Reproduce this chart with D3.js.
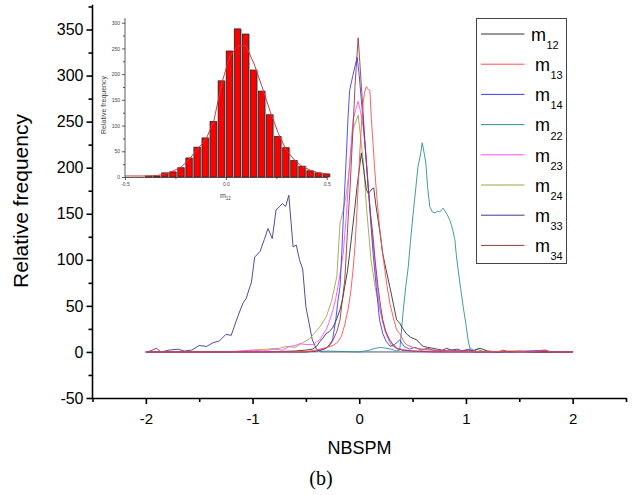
<!DOCTYPE html>
<html>
<head>
<meta charset="utf-8">
<script src="https://cdn.jsdelivr.net/npm/d3@7"></script>
<style>
body { margin: 0; background: #fff; }
</style>
</head>
<body>
<script>
// main chart ticks
let xMajor = [-2, -1, 0, 1, 2]
let xMinor = [-2.5, -1.5, -0.5, 0.5, 1.5, 2.5]
let yMajor = [-50, 0, 50, 100, 150, 200, 250, 300, 350]
let yMinor = [-25, 25, 75, 125, 175, 225, 275, 325, 375]

let seriesNames = ['12', '13', '14', '22', '23', '24', '33', '34']
let seriesColors = ['#333333', '#ff4d4d', '#3d3dff', '#2e9191', '#ff4dff', '#a3a34a', '#3a3a8f', '#963a3a']

// [NBSPM, relative frequency]
let m12 = [[-2,0],[-1.4,0],[-0.9,0],[-0.6,1],[-0.5,2],[-0.44,3],[-0.4,6],[-0.37,11],[-0.34,15],[-0.31,20],[-0.28,22],[-0.245,27],[-0.21,36],[-0.18,46],[-0.155,58],[-0.136,71],[-0.11,88],[-0.09,107],[-0.065,132],[-0.04,158],[-0.02,180],[0,198],[0.02,216],[0.045,195],[0.067,176],[0.085,172],[0.1,174],[0.12,177],[0.136,178],[0.155,160],[0.177,143],[0.2,125],[0.22,107],[0.25,90],[0.286,71],[0.32,52],[0.35,35],[0.38,31],[0.41,25],[0.44,20],[0.48,16],[0.54,13],[0.57,9],[0.6,6],[0.64,5],[0.69,4],[0.73,3],[0.78,2],[0.82,4],[0.86,2],[0.92,3],[0.97,1],[1.02,2],[1.08,1],[1.12,4],[1.16,3],[1.2,1],[1.3,0],[1.5,1],[1.6,0],[2,0]]
let m13 = [[-2,0],[-0.6,0],[-0.45,1],[-0.37,3],[-0.3,5],[-0.245,7],[-0.2,11],[-0.167,17],[-0.135,30],[-0.105,46],[-0.08,65],[-0.058,89],[-0.04,115],[-0.026,143],[-0.01,180],[0.005,216],[0.02,245],[0.036,270],[0.05,282],[0.067,288],[0.085,285],[0.1,284],[0.114,252],[0.13,225],[0.145,198],[0.165,168],[0.19,136],[0.215,110],[0.24,89],[0.26,72],[0.286,53],[0.32,37],[0.35,24],[0.38,20],[0.41,13],[0.44,8],[0.5,5],[0.54,4],[0.6,3],[0.7,2],[0.8,1],[1,1],[1.2,0],[1.4,1],[1.6,0],[1.75,2],[1.8,0],[2,0]]
let m14 = [[-2,0],[-0.5,0],[-0.4,1],[-0.35,2],[-0.31,4],[-0.28,8],[-0.25,13],[-0.22,35],[-0.2,55],[-0.18,71],[-0.165,105],[-0.15,143],[-0.135,180],[-0.12,216],[-0.105,255],[-0.09,284],[-0.06,300],[-0.04,310],[-0.02,320],[0,300],[0.018,275],[0.036,252],[0.06,215],[0.083,180],[0.105,145],[0.13,107],[0.16,70],[0.19,35],[0.22,20],[0.25,12],[0.29,6],[0.33,8],[0.38,13],[0.42,6],[0.47,3],[0.52,5],[0.58,2],[0.64,4],[0.69,2],[0.75,1],[0.85,2],[0.95,1],[1.03,3],[1.08,0],[1.4,0],[1.74,2],[1.78,0],[2,0]]
let m22 = [[-2,0],[-0.4,0],[-0.3,1],[0,0],[0.1,2],[0.15,4],[0.2,5],[0.25,4],[0.3,3],[0.35,1],[0.38,2],[0.41,42],[0.435,70],[0.46,93],[0.48,120],[0.505,150],[0.53,178],[0.55,201],[0.575,215],[0.59,227],[0.61,215],[0.624,205],[0.64,180],[0.66,158],[0.685,152],[0.71,151],[0.735,153],[0.755,152],[0.786,156],[0.82,150],[0.85,143],[0.875,133],[0.896,122],[0.91,105],[0.927,89],[0.95,69],[0.974,49],[1,30],[1.02,13],[1.037,4],[1.07,2],[1.1,3],[1.15,1],[1.3,0],[2,0]]
let m23 = [[-2,0],[-1.3,0],[-1.1,1],[-1,2],[-0.9,1],[-0.8,3],[-0.72,2],[-0.65,6],[-0.6,7],[-0.56,9],[-0.5,8],[-0.46,8],[-0.43,8],[-0.4,11],[-0.37,13],[-0.34,19],[-0.31,24],[-0.28,33],[-0.245,46],[-0.22,58],[-0.2,71],[-0.175,88],[-0.15,107],[-0.12,150],[-0.09,205],[-0.07,235],[-0.058,252],[-0.035,262],[-0.01,272],[0.01,262],[0.036,245],[0.067,208],[0.085,180],[0.1,158],[0.12,128],[0.145,100],[0.165,75],[0.19,49],[0.22,32],[0.25,20],[0.28,12],[0.32,8],[0.36,4],[0.42,2],[0.5,1],[0.6,0],[2,0]]
let m24 = [[-2,0],[-1.2,0],[-1,2],[-0.87,3],[-0.75,4],[-0.68,6],[-0.6,5],[-0.53,10],[-0.47,14],[-0.43,19],[-0.37,27],[-0.31,38],[-0.26,55],[-0.21,82],[-0.18,140],[-0.15,154],[-0.12,172],[-0.09,201],[-0.06,241],[-0.01,257],[0.02,225],[0.04,205],[0.067,158],[0.11,100],[0.15,70],[0.18,53],[0.24,24],[0.3,7],[0.36,3],[0.5,1],[0.7,1],[1,0],[2,0]]
let m33 = [[-2,0],[-1.96,1],[-1.9,4],[-1.86,0],[-1.78,2],[-1.7,3],[-1.64,1],[-1.57,2],[-1.5,7],[-1.43,6],[-1.37,10],[-1.31,12],[-1.25,19],[-1.2,18],[-1.14,38],[-1.09,53],[-1.06,58],[-1.01,76],[-0.98,103],[-0.93,109],[-0.89,122],[-0.855,134],[-0.815,123],[-0.78,154],[-0.72,161],[-0.69,158],[-0.66,170],[-0.62,114],[-0.59,116],[-0.56,100],[-0.53,90],[-0.5,49],[-0.47,31],[-0.44,13],[-0.4,3],[-0.36,0],[2,0]]
let m34 = [[-2,0],[-0.5,0],[-0.4,1],[-0.31,4],[-0.27,8],[-0.245,13],[-0.21,22],[-0.18,35],[-0.16,55],[-0.136,78],[-0.12,110],[-0.105,143],[-0.085,180],[-0.07,216],[-0.055,250],[-0.04,288],[-0.025,315],[-0.01,341],[0.005,315],[0.02,288],[0.035,262],[0.05,234],[0.067,205],[0.083,180],[0.105,150],[0.13,125],[0.15,98],[0.176,71],[0.2,50],[0.22,35],[0.25,22],[0.286,13],[0.32,7],[0.35,4],[0.4,2],[0.5,1],[0.7,0],[1.3,0],[1.35,2],[1.4,0],[2,0]]

// drawing order (red ends on top at the baseline)
let drawOrder = ['33', '22', '24', '23', '12', '14', '34', '13']
let seriesData = { '12': m12, '13': m13, '14': m14, '22': m22, '23': m23, '24': m24, '33': m33, '34': m34 }

// inset histogram (m12)
let binLeft = [-0.40, -0.36, -0.32, -0.28, -0.24, -0.20, -0.16, -0.12, -0.08, -0.04, 0.00, 0.04, 0.08, 0.12, 0.16, 0.20, 0.24, 0.28, 0.32, 0.36, 0.40, 0.44, 0.48]
let binCounts = [2, 2, 8, 10, 18, 37, 58, 76, 108, 187, 245, 288, 278, 208, 167, 121, 79, 57, 32, 21, 12, 8, 6]
let fitX = [-0.5, -0.42, -0.38, -0.34, -0.30, -0.26, -0.22, -0.18, -0.14, -0.10, -0.06, -0.02, 0.02, 0.06, 0.10, 0.14, 0.18, 0.22, 0.26, 0.30, 0.34, 0.38, 0.42, 0.46, 0.50]
let fitY = [2, 2, 2, 3, 6, 12, 20, 35, 55, 72, 108, 183, 235, 255, 255, 220, 175, 127, 85, 52, 33, 20, 13, 8, 6]
let insetXMajor = [-0.5, 0, 0.5]
let insetXMinor = [-0.25, 0.25]
let insetYMajor = [0, 50, 100, 150, 200, 250, 300]
let insetYMinor = [25, 75, 125, 175, 225, 275]

let font = 'Arial, "Liberation Sans", sans-serif'

let svg = d3.select('body')
.append('svg')
.attr('width', 644)
.attr('height', 495)

let x = d3.scaleLinear()
.domain([-2.5, 2.5])
.range([92.5, 626])

let y = d3.scaleLinear()
.domain([-50, 350])
.range([398, 29.5])

// x axis
let xAxis = svg.append('g')
.attr('transform', `translate(0, ${y(-50)})`)
.call(d3.axisBottom(x).tickValues(xMajor).tickSize(6).tickPadding(9).tickSizeOuter(0).tickFormat(d => String(d)))

svg.append('g')
.attr('transform', `translate(0, ${y(-50)})`)
.call(d3.axisBottom(x).tickValues(xMinor).tickSize(4).tickSizeOuter(0).tickFormat(''))
.call(g => g.select('.domain').remove())

// y axis
let yAxis = svg.append('g')
.attr('transform', `translate(${x(-2.5)}, 0)`)
.call(d3.axisLeft(y).tickValues(yMajor).tickSize(6).tickPadding(3).tickFormat(d => String(d)))
.call(g => g.select('.domain').remove())

svg.append('g')
.attr('transform', `translate(${x(-2.5)}, 0)`)
.call(d3.axisLeft(y).tickValues(yMinor).tickSize(4).tickFormat(''))
.call(g => g.select('.domain').remove())

svg.append('line')
.attr('x1', x(-2.5))
.attr('x2', x(-2.5))
.attr('y1', y(-50))
.attr('y2', y(377))
.attr('stroke', '#000')
.attr('stroke-width', 1.6)

svg.selectAll('.tick line, .domain')
.attr('stroke', '#000')
.attr('stroke-width', 1.6)

xAxis.selectAll('text')
.attr('font-family', font)
.attr('font-size', 15)
.attr('fill', '#000')

yAxis.selectAll('text')
.attr('font-family', font)
.attr('font-size', 16)
.attr('fill', '#000')

svg.append('text')
.attr('x', 359.5)
.attr('y', 454)
.attr('text-anchor', 'middle')
.attr('font-family', font)
.attr('font-size', 18)
.text('NBSPM')

svg.append('text')
.attr('transform', 'translate(28, 201) rotate(-90)')
.attr('text-anchor', 'middle')
.attr('font-family', font)
.attr('font-size', 21)
.text('Relative frequency')

svg.append('text')
.attr('x', 321)
.attr('y', 485)
.attr('text-anchor', 'middle')
.attr('font-family', '"Times New Roman", "Liberation Serif", serif')
.attr('font-size', 20)
.text('(b)')

// curves
let line = d3.line()
.x(d => x(d[0]))
.y(d => y(d[1]))

svg.selectAll('.curve')
.data(drawOrder)
.join('path')
.attr('class', 'curve')
.attr('d', k => line(seriesData[k]))
.attr('fill', 'none')
.attr('stroke', k => seriesColors[seriesNames.indexOf(k)])
.attr('stroke-width', 0.9)

// legend
let legend = svg.append('g')

legend.append('rect')
.attr('x', 476.5)
.attr('y', 18.5)
.attr('width', 90)
.attr('height', 245)
.attr('fill', 'none')
.attr('stroke', '#444')
.attr('stroke-width', 1)

let items = legend.selectAll('.item')
.data(seriesNames)
.join('g')
.attr('class', 'item')
.attr('transform', (d, i) => `translate(0, ${34 + i * 30.2})`)

items.append('line')
.attr('x1', 481)
.attr('x2', 524.5)
.attr('stroke', (d, i) => seriesColors[i])
.attr('stroke-width', 1)

let labels = items.append('text')
.attr('x', (d, i) => i === 0 ? 531 : 535)
.attr('y', 6.7)
.attr('font-family', font)
.attr('font-size', 18)

labels.append('tspan').text('m')
labels.append('tspan')
.attr('font-size', 11)
.attr('dy', 8.3)
.attr('dx', 0.5)
.text(d => d)

// inset histogram
let ix = d3.scaleLinear()
.domain([-0.5, 0.5])
.range([125, 326.7])

let iy = d3.scaleLinear()
.domain([0, 300])
.range([177, 22.7])

let inset = svg.append('g')

let bw = ix(0.04) - ix(0)

inset.selectAll('.shade')
.data(binLeft)
.join('rect')
.attr('class', 'shade')
.attr('x', d => ix(d))
.attr('width', bw)
.attr('y', (d, i) => iy(binCounts[i]))
.attr('height', (d, i) => iy(0) - iy(binCounts[i]))
.attr('fill', '#b0b0b0')

inset.selectAll('.bar')
.data(binLeft)
.join('rect')
.attr('class', 'bar')
.attr('x', d => ix(d) + 0.4)
.attr('width', bw - 1.8)
.attr('y', (d, i) => iy(binCounts[i]))
.attr('height', (d, i) => iy(0) - iy(binCounts[i]))
.attr('fill', '#ff0000')
.attr('stroke', '#2a2a2a')
.attr('stroke-width', 0.8)

inset.append('path')
.attr('d', d3.line().x((d, i) => ix(fitX[i])).y(d => iy(d))(fitY))
.attr('fill', 'none')
.attr('stroke', '#d03a3a')
.attr('stroke-width', 1)

let ixAxis = inset.append('g')
.attr('transform', `translate(0, ${iy(0)})`)
.call(d3.axisBottom(ix).tickValues(insetXMajor).tickSize(3).tickPadding(2).tickSizeOuter(0).tickFormat(d3.format('.1f')))

inset.append('g')
.attr('transform', `translate(0, ${iy(0)})`)
.call(d3.axisBottom(ix).tickValues(insetXMinor).tickSize(2).tickFormat(''))
.call(g => g.select('.domain').remove())

let iyAxis = inset.append('g')
.attr('transform', `translate(${ix(-0.5)}, 0)`)
.call(d3.axisLeft(iy).tickValues(insetYMajor).tickSize(3).tickPadding(2).tickFormat(d => String(d)))
.call(g => g.select('.domain').remove())

inset.append('g')
.attr('transform', `translate(${ix(-0.5)}, 0)`)
.call(d3.axisLeft(iy).tickValues(insetYMinor).tickSize(2).tickFormat(''))
.call(g => g.select('.domain').remove())

inset.append('line')
.attr('x1', ix(-0.5))
.attr('x2', ix(-0.5))
.attr('y1', iy(0))
.attr('y2', iy(309))
.attr('stroke', '#333')
.attr('stroke-width', 0.8)

inset.selectAll('.tick line, .domain')
.attr('stroke', '#333')
.attr('stroke-width', 0.8)

inset.selectAll('.tick text')
.attr('font-family', font)
.attr('font-size', 5)
.attr('fill', '#444')

ixAxis.selectAll('.tick text')
.text(d => d === 0 ? '0.0' : String(d.toFixed(1)).replace('−', '-'))

inset.append('text')
.attr('transform', 'translate(106, 105) rotate(-90)')
.attr('text-anchor', 'middle')
.attr('font-family', font)
.attr('font-size', 7)
.attr('fill', '#444')
.text('Relative frequency')

let ixLabel = inset.append('text')
.attr('x', 220)
.attr('y', 198)
.attr('font-family', font)
.attr('font-size', 7)
.attr('fill', '#444')

ixLabel.append('tspan').text('m')
ixLabel.append('tspan')
.attr('font-size', 4.5)
.attr('dy', 2)
.text('12')
</script>
</body>
</html>
